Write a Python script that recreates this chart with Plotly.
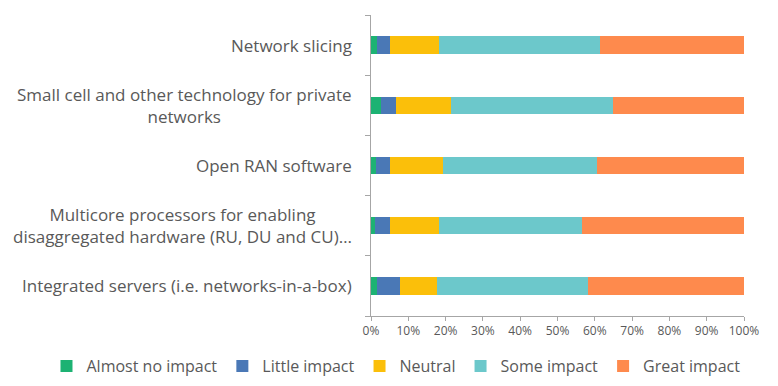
import plotly.graph_objects as go

categories = [
    "Integrated servers (i.e. networks-in-a-box)",
    "Multicore processors for enabling<br>disaggregated hardware (RU, DU and CU)…",
    "Open RAN software",
    "Small cell and other technology for private<br>networks",
    "Network slicing",
]
series_names = ["Almost no impact", "Little impact", "Neutral", "Some impact", "Great impact"]
almost_no = [1.5, 1.2, 1.3, 2.6, 1.7]
little = [6.3, 4.0, 3.9, 4.1, 3.4]
neutral = [9.8, 13.1, 14.2, 14.8, 13.0]
some = [40.7, 38.4, 41.1, 43.5, 43.3]
great = [41.7, 43.3, 39.5, 35.0, 38.6]
colors = ["#1DB273", "#4A78B6", "#FBBF0A", "#6CC8CB", "#FE8A4D"]
tick_vals = [0, 10, 20, 30, 40, 50, 60, 70, 80, 90, 100]
tick_text = [f"{v}%" for v in tick_vals]

FONT = "Open Sans, Liberation Sans, sans-serif"
fig = go.Figure()
for name, vals, col in zip(series_names, [almost_no, little, neutral, some, great], colors):
    fig.add_trace(go.Bar(
        y=categories, x=vals, name=name, orientation="h",
        marker=dict(color=col, line=dict(width=0)), width=0.29,
    ))

# category labels, multi-line ones centred like Excel does
for c in categories:
    fig.add_annotation(
        x=0, xref="paper", xshift=-17, y=c, yref="y", text=c,
        xanchor="right", yanchor="middle", align="center", showarrow=False,
        font=dict(family=FONT, size=17, color="#595959"),
    )

# page has an 8px body margin, so the figure is drawn 8px in from the top-left
fig.update_layout(
    width=770, height=378,
    barmode="stack",
    margin=dict(l=363, r=34, t=7, b=70, autoexpand=False),
    paper_bgcolor="white", plot_bgcolor="white",
    font=dict(family=FONT, color="#595959"),
    legend=dict(orientation="h", x=-0.87, xref="paper", xanchor="left",
                y=-0.11, yref="paper", yanchor="top",
                font=dict(family=FONT, size=16, color="#595959"),
                itemwidth=30, tracegroupgap=0, traceorder="normal"),
    xaxis=dict(range=[0, 100], tickvals=tick_vals, ticktext=tick_text,
               showgrid=False, zeroline=False, showline=True, linecolor="#A6A6A6",
               ticks="outside", ticklen=4, tickcolor="#A6A6A6",
               tickfont=dict(family=FONT, size=12, color="#595959")),
    yaxis=dict(showticklabels=False, showgrid=False, zeroline=False,
               showline=True, linecolor="#A6A6A6", ticks="outside", ticklen=5,
               tickcolor="#A6A6A6", tickson="boundaries"),
)
fig.write_html("out.html")
